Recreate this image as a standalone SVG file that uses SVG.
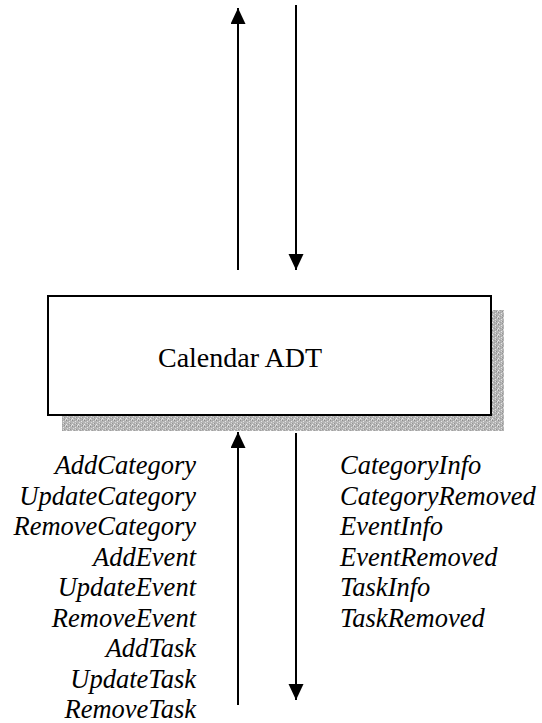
<svg xmlns="http://www.w3.org/2000/svg" width="542" height="723" viewBox="0 0 542 723">
  <defs>
    <!-- grainy gray fill for the drop shadow -->
    <pattern id="grain" width="6" height="6" patternUnits="userSpaceOnUse">
      <rect width="6" height="6" fill="#b4b4b4"/>
      <rect x="0" y="0" width="1" height="1" fill="#8a8a8a"/>
      <rect x="3" y="1" width="1" height="1" fill="#e6e6e6"/>
      <rect x="1" y="2" width="1" height="1" fill="#dcdcdc"/>
      <rect x="4" y="3" width="1" height="1" fill="#949494"/>
      <rect x="2" y="4" width="1" height="1" fill="#a0a0a0"/>
      <rect x="5" y="5" width="1" height="1" fill="#e0e0e0"/>
      <rect x="5" y="0" width="1" height="1" fill="#d2d2d2"/>
      <rect x="0" y="4" width="1" height="1" fill="#ececec"/>
      <rect x="2" y="0" width="1" height="1" fill="#a4a4a4"/>
      <rect x="4" y="5" width="1" height="1" fill="#909090"/>
      <rect x="1" y="5" width="1" height="1" fill="#cfcfcf"/>
      <rect x="3" y="3" width="1" height="1" fill="#d8d8d8"/>
    </pattern>
    <marker id="head" markerUnits="userSpaceOnUse" markerWidth="17" markerHeight="16" refX="16" refY="7.5" orient="auto">
      <polygon points="0,0 16,7.5 0,15" fill="#000"/>
    </marker>
  </defs>
  <style>
    .flow { stroke: #000; stroke-width: 2; fill: none; marker-end: url(#head); }
    .lbl { font-family: "Liberation Serif", "Times New Roman", serif; font-style: italic; font-size: 26.5px; fill: #000; }
    .title { font-family: "Liberation Serif", "Times New Roman", serif; font-size: 28px; fill: #000; }
  </style>

  <g id="connectors">
    <line class="flow" x1="238" y1="270" x2="238" y2="8"/>
    <line class="flow" x1="296" y1="5" x2="296" y2="270"/>
    <line class="flow" x1="238" y1="705" x2="238" y2="432"/>
    <line class="flow" x1="296" y1="433" x2="296" y2="700"/>
  </g>

  <g id="calendar-adt">
    <rect x="62" y="310" width="442" height="121" fill="url(#grain)"/>
    <rect x="48" y="296" width="443" height="119" fill="#fff" stroke="#000" stroke-width="2"/>
    <text class="title" x="240" y="367" text-anchor="middle">Calendar ADT</text>
  </g>

  <g id="inputs" text-anchor="end">
    <text class="lbl" x="196" y="474">AddCategory</text>
    <text class="lbl" x="196" y="504.5">UpdateCategory</text>
    <text class="lbl" x="196" y="535">RemoveCategory</text>
    <text class="lbl" x="196" y="565.5">AddEvent</text>
    <text class="lbl" x="196" y="596">UpdateEvent</text>
    <text class="lbl" x="196" y="626.5">RemoveEvent</text>
    <text class="lbl" x="196" y="657">AddTask</text>
    <text class="lbl" x="196" y="687.5">UpdateTask</text>
    <text class="lbl" x="196" y="718">RemoveTask</text>
  </g>

  <g id="outputs">
    <text class="lbl" x="340" y="474">CategoryInfo</text>
    <text class="lbl" x="340" y="504.5">CategoryRemoved</text>
    <text class="lbl" x="340" y="535">EventInfo</text>
    <text class="lbl" x="340" y="565.5">EventRemoved</text>
    <text class="lbl" x="340" y="596">TaskInfo</text>
    <text class="lbl" x="340" y="626.5">TaskRemoved</text>
  </g>
</svg>
